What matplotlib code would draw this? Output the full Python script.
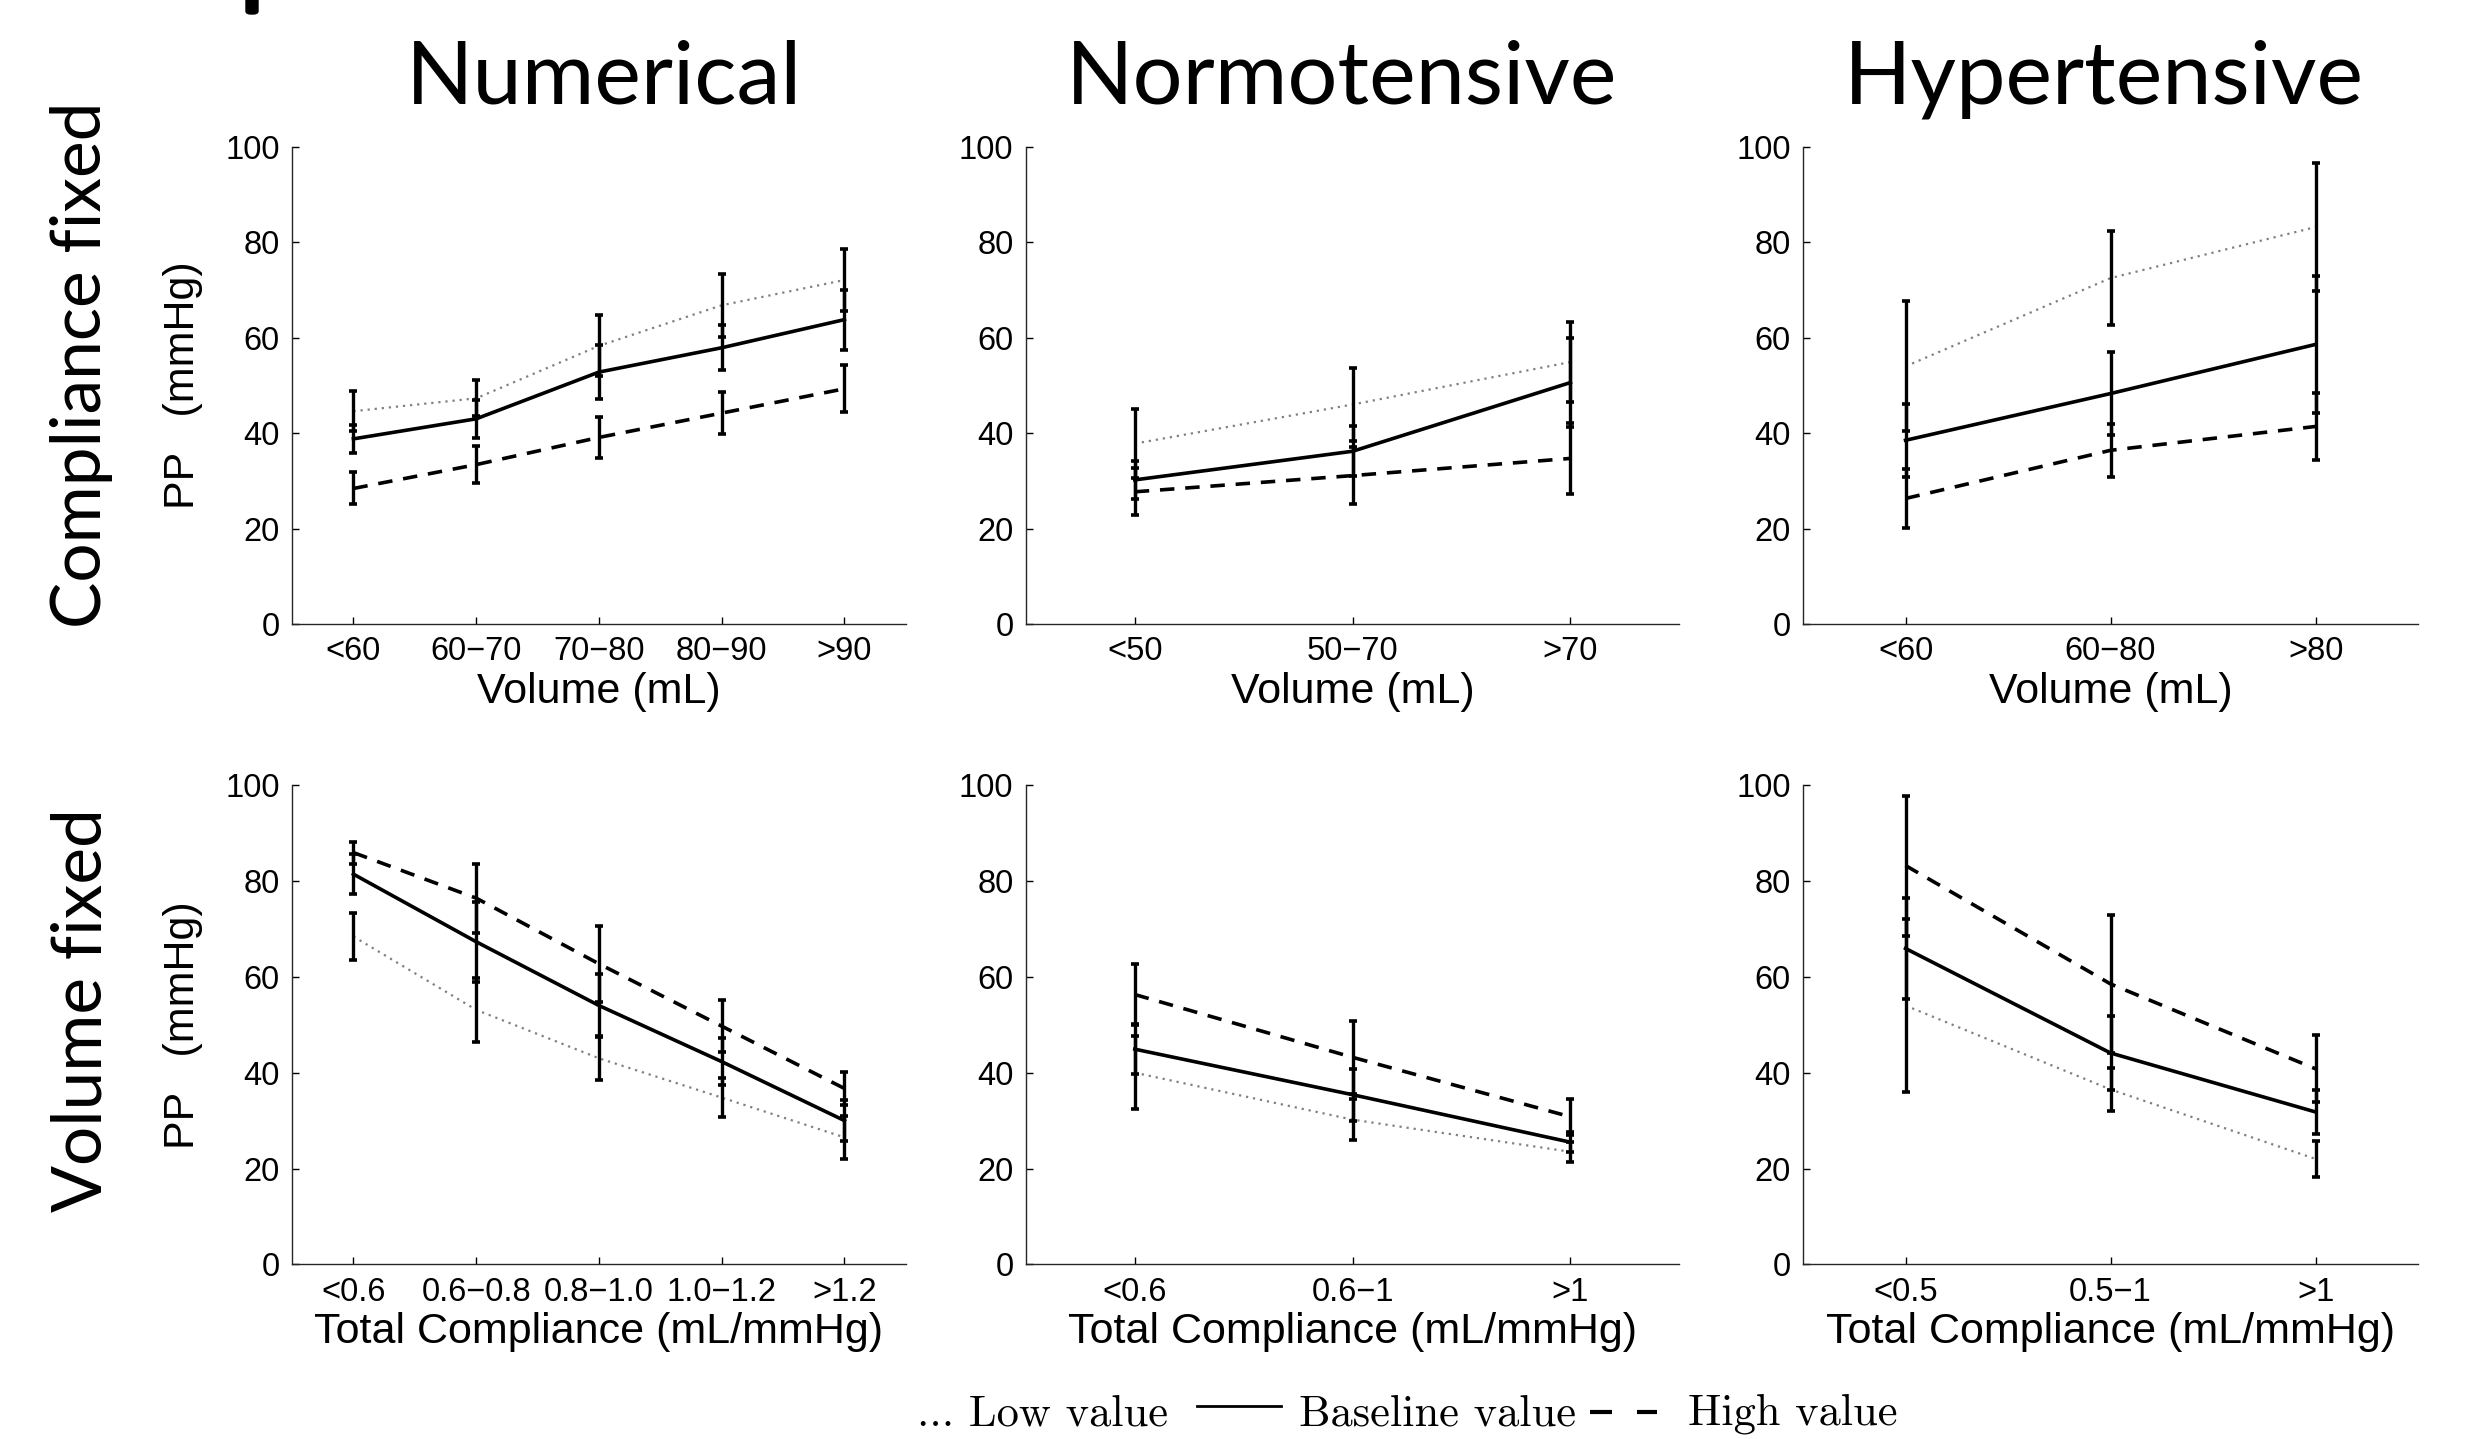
import numpy as np
import matplotlib
matplotlib.use('Agg')
import matplotlib.pyplot as plt
from matplotlib.lines import Line2D
from matplotlib.patches import FancyBboxPatch

# ---- row 1: compliance fixed, PP vs volume ----
num_vol_labels = ['<60', '60\u221270', '70\u221280', '80\u221290', '>90']
num_vol_low = [44.6, 47.3, 58.3, 66.8, 72.1]
num_vol_low_err = [4.2, 3.8, 6.4, 6.6, 6.6]
num_vol_base = [38.8, 43.0, 52.8, 57.9, 63.8]
num_vol_base_err = [3.0, 4.0, 5.6, 4.7, 6.3]
num_vol_high = [28.4, 33.4, 39.1, 44.2, 49.3]
num_vol_high_err = [3.35, 3.85, 4.3, 4.4, 4.9]

normo_vol_labels = ['<50', '50\u221270', '>70']
normo_vol_low = [37.8, 46.0, 54.9]
normo_vol_low_err = [7.3, 7.7, 8.4]
normo_vol_base = [30.2, 36.2, 50.6]
normo_vol_base_err = [4.0, 5.2, 9.4]
normo_vol_high = [27.7, 31.1, 34.7]
normo_vol_high_err = [4.9, 6.0, 7.4]

hyper_vol_labels = ['<60', '60\u221280', '>80']
hyper_vol_low = [54.0, 72.5, 83.2]
hyper_vol_low_err = [13.6, 9.9, 13.4]
hyper_vol_base = [38.5, 48.3, 58.6]
hyper_vol_base_err = [7.6, 8.7, 14.4]
hyper_vol_high = [26.3, 36.4, 41.4]
hyper_vol_high_err = [6.1, 5.5, 7.1]

# ---- row 2: volume fixed, PP vs total compliance ----
num_comp_labels = ['<0.6', '0.6\u22120.8', '0.8\u22121.0', '1.0\u22121.2', '>1.2']
num_comp_low = [68.4, 53.1, 43.0, 34.8, 26.5]
num_comp_low_err = [5.0, 6.7, 4.6, 4.0, 4.5]
num_comp_base = [81.4, 67.3, 54.0, 42.3, 30.0]
num_comp_base_err = [4.1, 8.3, 6.5, 4.9, 4.3]
num_comp_high = [85.9, 76.4, 62.7, 49.7, 36.7]
num_comp_high_err = [2.3, 7.2, 7.9, 5.4, 3.4]

normo_comp_labels = ['<0.6', '0.6\u22121', '>1']
normo_comp_low = [40.0, 30.2, 23.5]
normo_comp_low_err = [7.6, 4.3, 2.1]
normo_comp_base = [44.9, 35.4, 25.5]
normo_comp_base_err = [5.2, 5.4, 2.1]
normo_comp_high = [56.3, 43.2, 30.8]
normo_comp_high_err = [6.4, 7.6, 3.7]

hyper_comp_labels = ['<0.5', '0.5\u22121', '>1']
hyper_comp_low = [54.0, 36.5, 22.0]
hyper_comp_low_err = [18.1, 4.5, 3.7]
hyper_comp_base = [65.9, 44.1, 31.8]
hyper_comp_base_err = [10.5, 7.7, 4.6]
hyper_comp_high = [83.2, 58.5, 40.8]
hyper_comp_high_err = [14.6, 14.4, 7.0]

col_titles = ['Numerical', 'Normotensive', 'Hypertensive']
row_titles = ['Compliance fixed', 'Volume fixed']

TICK_FONT = 'Liberation Sans'
BIG_FONT = 'Lato'

fig = plt.figure(figsize=(24.75, 14.39), dpi=100)

col_left = [0.118, 0.4145, 0.7285]
col_width = [0.248, 0.264, 0.2485]
row_bottom = [0.5664, 0.1213]
row_height = [0.3315, 0.3332]


def draw_panel(ax, labels, low, low_err, base, base_err, high, high_err, xlabel):
    x = np.arange(1, len(labels) + 1)
    # error bars first, all black
    for y, e in [(low, low_err), (base, base_err), (high, high_err)]:
        ax.errorbar(x, y, yerr=e, fmt='none', ecolor='black', elinewidth=2.4,
                    capsize=3.2, capthick=2.6, zorder=3)
    ax.plot(x, low, color='0.5', lw=1.6, linestyle=(0, (1, 2.2)), zorder=2)
    ax.plot(x, base, color='black', lw=2.6, linestyle='-', zorder=2)
    ax.plot(x, high, color='black', lw=2.6, linestyle=(0, (4, 3)), zorder=2)

    ax.set_xlim(0.5, len(labels) + 0.5)
    ax.set_ylim(0, 100)
    ax.set_yticks([0, 20, 40, 60, 80, 100])
    ax.set_xticks(x)
    ax.set_xticklabels(labels)
    ax.spines['top'].set_visible(False)
    ax.spines['right'].set_visible(False)
    for s in ['left', 'bottom']:
        ax.spines[s].set_linewidth(1.0)
        ax.spines[s].set_color('0.15')
    ax.tick_params(direction='in', length=5, width=1.0, labelsize=23.5, pad=9)
    for lab in ax.get_xticklabels() + ax.get_yticklabels():
        lab.set_fontfamily(TICK_FONT)
    ax.set_xlabel(xlabel, fontsize=31, fontfamily=TICK_FONT, labelpad=3)
    ax.set_ylabel('PP   (mmHg)', fontsize=31, fontfamily=TICK_FONT, labelpad=16)


panels = [
    [(num_vol_labels, num_vol_low, num_vol_low_err, num_vol_base, num_vol_base_err, num_vol_high, num_vol_high_err),
     (normo_vol_labels, normo_vol_low, normo_vol_low_err, normo_vol_base, normo_vol_base_err, normo_vol_high, normo_vol_high_err),
     (hyper_vol_labels, hyper_vol_low, hyper_vol_low_err, hyper_vol_base, hyper_vol_base_err, hyper_vol_high, hyper_vol_high_err)],
    [(num_comp_labels, num_comp_low, num_comp_low_err, num_comp_base, num_comp_base_err, num_comp_high, num_comp_high_err),
     (normo_comp_labels, normo_comp_low, normo_comp_low_err, normo_comp_base, normo_comp_base_err, normo_comp_high, normo_comp_high_err),
     (hyper_comp_labels, hyper_comp_low, hyper_comp_low_err, hyper_comp_base, hyper_comp_base_err, hyper_comp_high, hyper_comp_high_err)],
]
xlabels = ['Volume (mL)', 'Total Compliance (mL/mmHg)']

for r in range(2):
    for c in range(3):
        ax = fig.add_axes([col_left[c], row_bottom[r], col_width[c], row_height[r]])
        draw_panel(ax, *panels[r][c], xlabels[r])
        if c > 0:
            ax.set_ylabel('')

# column titles
title_x = [604, 1342, 2104]
for c in range(3):
    fig.text(title_x[c] / 2475, 1 - 79 / 1439, col_titles[c], fontsize=63.5,
             fontfamily=BIG_FONT, ha='center', va='center')

# row titles
fig.text(82 / 2475, 1 - 365 / 1439, row_titles[0], fontsize=50, fontfamily=BIG_FONT,
         rotation=90, ha='center', va='center')
fig.text(82 / 2475, 1 - 1010 / 1439, row_titles[1], fontsize=50, fontfamily=BIG_FONT,
         rotation=90, ha='center', va='center')

# legend text along the bottom
ly = 1 - 1414 / 1439
dash_y = 1 - 1412 / 1439
fig.text(917 / 2475, ly, '... Low value', fontsize=32, fontfamily='cmr10', ha='left', va='center')
fig.add_artist(Line2D([1197 / 2475, 1281 / 2475], [dash_y + 0.004, dash_y + 0.004], color='black', lw=2.0))
fig.text(1299 / 2475, ly, 'Baseline value', fontsize=32, fontfamily='cmr10', ha='left', va='center')
fig.add_artist(Line2D([1590 / 2475, 1612 / 2475], [dash_y, dash_y], color='black', lw=3.0, solid_capstyle='butt'))
fig.add_artist(Line2D([1637 / 2475, 1657 / 2475], [dash_y, dash_y], color='black', lw=3.0, solid_capstyle='butt'))
fig.text(1688 / 2475, ly, 'High value', fontsize=32, fontfamily='cmr10', ha='left', va='center')

# leftover mark at top edge (cropped from the source figure)
fig.add_artist(FancyBboxPatch((246 / 2475, 1 - 14 / 1439), 12 / 2475, 20 / 1439,
                              boxstyle='round,pad=0,rounding_size=0.002',
                              transform=fig.transFigure, color='black', clip_on=False))

fig.savefig('out.png', dpi=100)
